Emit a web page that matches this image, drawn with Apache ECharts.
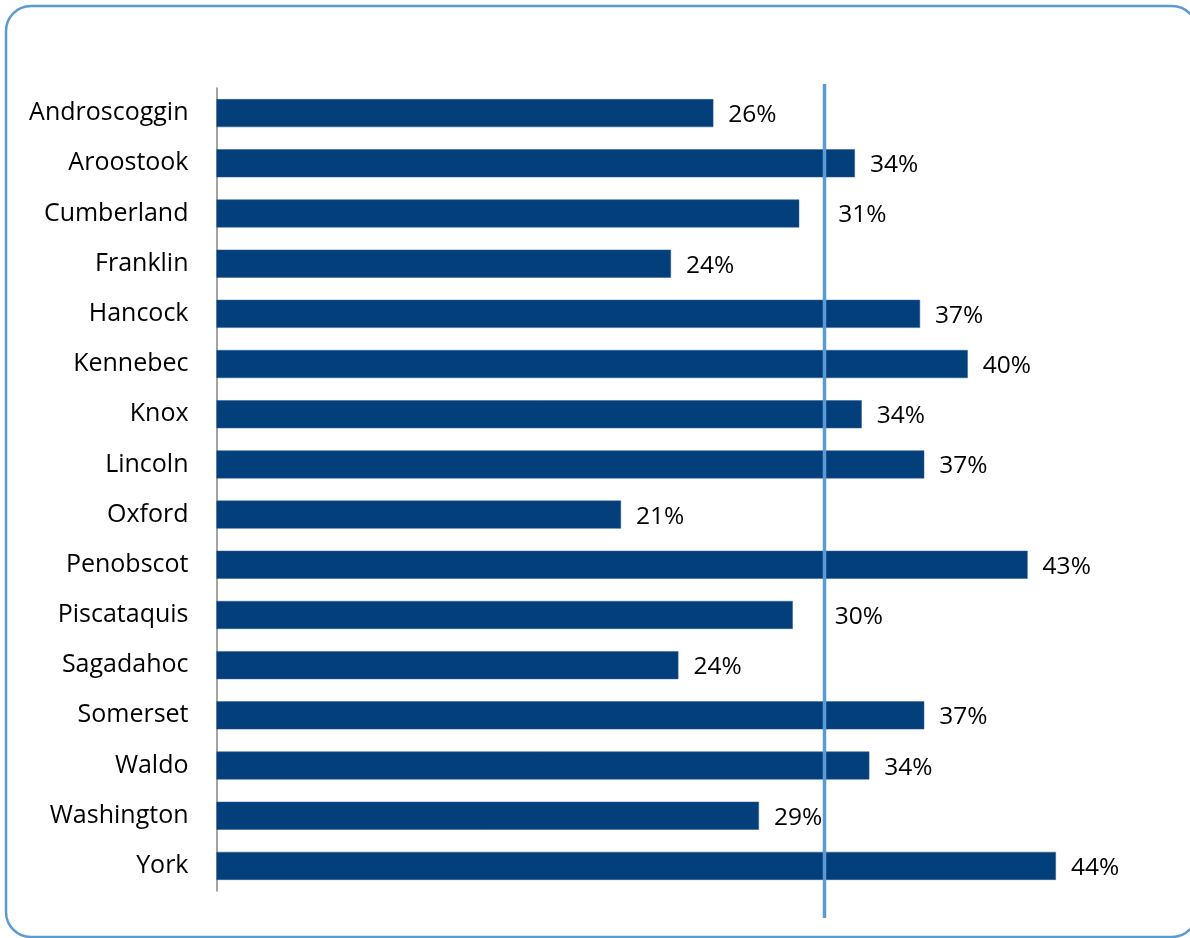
<!DOCTYPE html>
<html>
<head>
<meta charset="utf-8">
<script src="https://cdn.jsdelivr.net/npm/echarts@6/dist/echarts.min.js"></script>
<style>
html,body{margin:0;padding:0;background:#fff;}
#chart{width:1190px;height:938px;}
</style>
</head>
<body>
<div id="chart"></div>
<script>
// ---- data ----
const counties = ["Androscoggin","Aroostook","Cumberland","Franklin","Hancock","Kennebec","Knox","Lincoln","Oxford","Penobscot","Piscataquis","Sagadahoc","Somerset","Waldo","Washington","York"];
const percents = [26.15,33.6,30.67,23.92,37.03,39.54,33.96,37.25,21.29,42.69,30.33,24.31,37.25,34.36,28.55,44.18];
const stateAverage = 32.0;

// ---- styling (kept separate from data) ----
const extraLabelShift = { "Cumberland": [24, 2], "Piscataquis": [27, 2] };

const chart = echarts.init(document.getElementById('chart'));
const FONT = '"Open Sans", sans-serif';

const barData = percents.map((v, i) => {
  const s = extraLabelShift[counties[i]];
  return s ? { value: v, label: { offset: s } } : { value: v, label: { offset: [0, 2] } };
});

chart.setOption({
  animation: false,
  backgroundColor: '#ffffff',
  grid: { left: 216.5, top: 88, width: 950, height: 803, containLabel: false },
  xAxis: {
    type: 'value', min: 0, max: 50, show: false
  },
  yAxis: {
    type: 'category',
    data: counties,
    inverse: true,
    axisLine: { show: true, lineStyle: { color: '#868686', width: 1.5 } },
    axisTick: { show: false },
    axisLabel: { color: '#000', fontFamily: FONT, fontSize: 25, margin: 28 }
  },
  series: [{
    type: 'bar',
    data: barData,
    barWidth: 28,
    itemStyle: { color: '#033f7a', borderColor: '#2c5d92', borderWidth: 0.5 },
    label: {
      show: true, position: 'right', distance: 15,
      color: '#000', fontFamily: FONT, fontSize: 24.5,
      formatter: p => Math.round(p.value) + '%'
    },
    z: 2
  }]
});

const ax = chart.convertToPixel({ xAxisIndex: 0 }, stateAverage);
chart.setOption({
  graphic: [
    {
      type: 'rect', z: 0,
      shape: { x: 6, y: 6, width: 1191, height: 931, r: 25 },
      style: { fill: 'none', stroke: '#5b9bd5', lineWidth: 2.5 }
    },
    {
      type: 'line', z: 10,
      shape: { x1: ax, y1: 84, x2: ax, y2: 918 },
      style: { stroke: '#5b9bd5', lineWidth: 3.5 }
    }
  ]
});
</script>
</body>
</html>
